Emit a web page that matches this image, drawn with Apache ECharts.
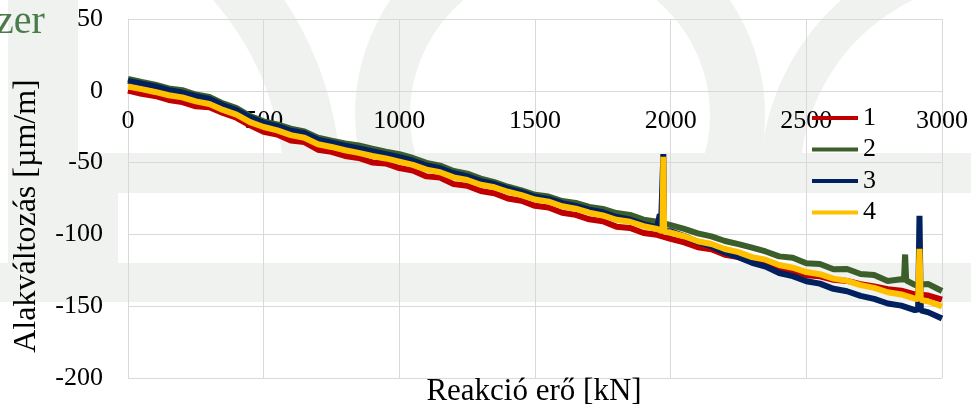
<!DOCTYPE html>
<html><head><meta charset="utf-8">
<script src="https://cdn.jsdelivr.net/npm/echarts@6/dist/echarts.min.js"></script>
<style>html,body{margin:0;padding:0;background:#fff}#c{width:971px;height:407px}</style>
</head><body><div id="c"></div>
<script>
const force = [0,50,100,150,200,250,300,350,400,450,500,550,600,650,700,750,800,850,900,950,
1000,1050,1100,1150,1200,1250,1300,1350,1400,1450,1500,1550,1600,1650,1700,1750,1800,1850,1900,1950,
2000,2050,2100,2150,2200,2250,2300,2350,2400,2450,2500,2550,2600,2650,2700,2750,2800,2850,2900,2950,3000];

const s1 = [0.2,-2.1,-3.6,-6.4,-7.9,-10.8,-11.4,-15.4,-18.8,-24.1,-28.6,-30.4,-34.6,-35.7,-41.0,-42.5,-45.4,-46.8,-49.9,-50.6,
-53.8,-55.5,-59.6,-60.4,-65.0,-66.1,-69.8,-71.3,-75.0,-76.6,-80.1,-81.3,-84.9,-86.4,-89.5,-90.8,-94.6,-95.5,-99.0,-100.3,
-103.1,-105.6,-108.9,-110.4,-114.2,-115.8,-118.6,-120.1,-123.7,-125.3,-128.4,-129.2,-131.6,-132.4,-134.6,-136.2,-138.1,-139.2,-141.7,-142.6,-145.4];

const s2 = [8.2,6.1,4.3,1.6,0.4,-2.6,-4.3,-8.8,-12.1,-17.6,-21.3,-23.4,-26.4,-28.3,-32.6,-34.8,-36.6,-38.1,-40.3,-42.4,
-44.1,-46.8,-50.2,-52.1,-55.8,-57.7,-61.2,-63.6,-66.8,-69.3,-72.4,-73.6,-76.8,-78.1,-80.9,-82.3,-85.1,-86.4,-89.7,-91.1,
-93.6,-96.2,-99.3,-101.4,-104.6,-106.8,-109.2,-111.9,-115.3,-116.2,-120.1,-120.6,-124.3,-124.1,-127.6,-128.2,-132.4,-131.3,-135.2,-134.6,-139.4];

const s3 = [6.8,5.0,3.1,0.5,-1.2,-3.8,-5.6,-10.1,-13.4,-18.7,-22.3,-24.6,-27.8,-29.5,-34.1,-36.2,-38.3,-40.1,-42.2,-44.1,
-46.2,-48.7,-52.0,-53.9,-57.4,-59.6,-62.9,-64.9,-68.1,-70.6,-73.8,-75.3,-78.2,-80.1,-82.8,-84.6,-87.9,-89.6,-92.9,-95.1,
-97.8,-101.2,-105.3,-108.4,-112.6,-115.9,-119.8,-122.4,-126.9,-129.1,-132.6,-134.3,-137.9,-139.6,-142.8,-144.9,-148.1,-149.6,-152.7,-154.3,-158.6];

const s4 = [3.0,1.2,-0.8,-3.1,-4.6,-7.4,-9.2,-13.3,-16.6,-21.8,-25.2,-27.6,-30.9,-32.7,-37.2,-39.1,-41.4,-43.2,-45.4,-47.1,
-49.3,-51.6,-54.9,-56.7,-60.3,-62.1,-65.4,-67.2,-70.3,-72.6,-75.7,-77.2,-80.4,-82.1,-84.9,-86.8,-89.8,-91.2,-94.3,-96.2,
-98.7,-101.3,-104.8,-106.7,-110.2,-112.3,-115.8,-117.6,-121.3,-123.2,-126.2,-127.7,-130.8,-132.3,-135.3,-137.2,-140.3,-141.8,-144.8,-146.7,-150.2];

// short spikes, [force, value]
const spikes1 = [];
const spikes2 = [[2860,-131.5],[2864,-114],[2868,-132]];
const spikes3 = [[1955,-95.5],[1960,-86],[1964,-96.5],[1970,-97.4],[1973,-44],[1976,-97.6],[2912,-152.4],[2917,-87],[2922,-152.9]];
const spikes4 = [[1970,-97.8],[1973,-46],[1976,-98.1],[2912,-145],[2917,-110],[2922,-145.5]];

const names = ['1','2','3','4'];
const colors = ['#c00000','#3b5e2b','#002060','#ffc000'];
const xTitle = 'Reakció erő [kN]';
const yTitle = 'Alakváltozás [µm/m]';

function build(vals, sp){
  const d = force.map((f,i)=>[f, vals[i]]).concat(sp);
  d.sort((a,b)=>a[0]-b[0]);
  return d;
}
const datasets = [build(s1,spikes1), build(s2,spikes2), build(s3,spikes3), build(s4,spikes4)];

const FONT = '"Liberation Serif","Times New Roman",serif';
const WM = '#eff2ee';
const chart = echarts.init(document.getElementById('c'), null, {renderer:'canvas'});
chart.setOption({
  animation:false,
  backgroundColor:'#ffffff',
  grid:{left:128,right:29,top:19,bottom:29,containLabel:false},
  xAxis:{type:'value',min:0,max:3000,interval:500,position:'bottom',offset:-287,
    axisLine:{show:false,onZero:false},
    axisTick:{show:false},
    axisLabel:{fontSize:26,fontFamily:FONT,color:'#000',margin:17,showMinLabel:true,showMaxLabel:true,
      formatter:(v)=>String(v)},
    splitLine:{show:true,lineStyle:{color:'#d9d9d9',width:1}}},
  yAxis:{type:'value',min:-200,max:50,interval:50,
    axisLine:{show:true,onZero:false,lineStyle:{color:'#d9d9d9',width:1}},
    axisTick:{show:false},
    axisLabel:{fontSize:26,fontFamily:FONT,color:'#000',margin:25},
    splitLine:{show:true,lineStyle:{color:'#d9d9d9',width:1}}},
  legend:{orient:'vertical',left:812,top:105,itemWidth:46,itemHeight:4,itemGap:5.5,icon:'rect',padding:0,
    textStyle:{fontSize:26,fontFamily:FONT,color:'#000',lineHeight:26},
    data:names},
  graphic:[
    {type:'rect',z:-100,silent:true,shape:{x:8,y:0,width:70,height:263},style:{fill:WM}},
    {type:'rect',z:-100,silent:true,shape:{x:78,y:153,width:40,height:110},style:{fill:WM}},
    {type:'rect',z:-100,silent:true,shape:{x:8,y:153,width:963,height:40},style:{fill:WM}},
    {type:'rect',z:-100,silent:true,shape:{x:0,y:263,width:971,height:39},style:{fill:WM}},
    {type:'sector',z:-100,silent:true,shape:{cx:0,cy:188,r:341,r0:284,startAngle:Math.PI,endAngle:Math.PI*2},style:{fill:WM}},
    {type:'sector',z:-100,silent:true,shape:{cx:560,cy:115,r:205,r0:150,startAngle:Math.PI-0.38,endAngle:Math.PI*2+0.38},style:{fill:WM}},
    {type:'sector',z:-100,silent:true,shape:{cx:1000,cy:180,r:240,r0:200,startAngle:Math.PI,endAngle:Math.PI*2},style:{fill:WM}},
    {type:'text',z:100,left:-4,top:2,style:{text:'zer',font:'40px '+FONT,fill:'#4a7c4a'}},
    {type:'text',z:100,x:534,y:392,style:{text:xTitle,font:'31px '+FONT,fill:'#000',align:'center',verticalAlign:'middle'}},
    {type:'text',z:100,x:27,y:216,rotation:Math.PI/2,style:{text:yTitle,font:'32px '+FONT,fill:'#000',align:'center',verticalAlign:'middle'}}
  ],
  series: datasets.map((d,i)=>({
    name:names[i],type:'line',data:d,showSymbol:false,symbol:'none',
    lineStyle:{color:colors[i],width:6},itemStyle:{color:colors[i]},
    z:2+i
  }))
});
</script></body></html>
